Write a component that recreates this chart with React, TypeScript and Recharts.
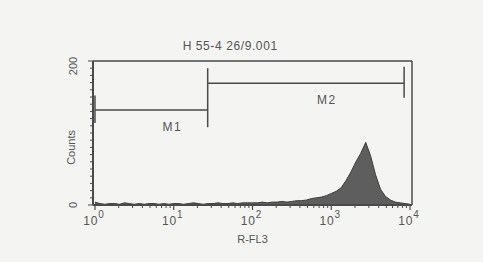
import { AreaChart, Area, XAxis, YAxis, ReferenceLine } from "recharts";

// histogram counts, 16 channels per decade (10^0 .. 10^4)
const counts = [
  4, 2, 1, 2, 2, 1, 3, 2, 1, 2, 1, 2, 2, 1, 2, 1,
  2, 2, 1, 2, 3, 2, 1, 2, 2, 3, 2, 2, 3, 2, 3, 3,
  3, 3, 4, 3, 4, 4, 5, 4, 5, 6, 6, 7,
  9, 10, 11, 13, 16, 19, 24, 34, 46, 60, 72, 87, 68, 42, 22, 12, 7, 4, 3, 2, 1,
];

const decades = [0, 1, 2, 3, 4];
const chPerDecade = 16;

// marker gates (channel range, level in counts)
const gateNames = ["M1", "M2"];
const gateFrom = [0, 22.9];
const gateTo = [22.9, 62.8];
const gateLevel = [132, 169];
// vertical end bars: channel, low, high
const barCh = [0, 22.9, 62.8];
const barLow = [114, 108, 149];
const barHigh = [152, 190, 192];

const title = "H 55-4 26/9.001";

const data = counts.map((c, i) => ({ ch: i, count: c }));

const xDomain = [-0.4, 64.4];
const yDomain = [0, 200];

const majorTicks = decades.map((d) => d * chPerDecade);
const minorTicks: number[] = [];
decades.slice(0, 4).forEach((d) => {
  for (let k = 2; k <= 9; k++) minorTicks.push((d + Math.log10(k)) * chPerDecade);
});
const xTicks = [...majorTicks, ...minorTicks].sort((a, b) => a - b);
const yTicks = Array.from({ length: 21 }, (_, i) => i * 10);

const ink = "#4a4a4a";
const font = "'Liberation Sans', Arial, sans-serif";

const XTick = (props: any) => {
  const { x, y, payload } = props;
  const major = majorTicks.includes(payload.value);
  if (!major) return <line x1={x} x2={x} y1={y} y2={y + 3} stroke={ink} strokeWidth={1} />;
  return (
    <g>
      <line x1={x} x2={x} y1={y} y2={y + 5} stroke={ink} strokeWidth={1.2} />
      <text x={x - 1} y={y + 20} textAnchor="middle" fontSize={12} fill="#555" fontFamily={font} letterSpacing={0.8}>
        10
        <tspan dy={-7} fontSize={10}>{payload.value / chPerDecade}</tspan>
      </text>
    </g>
  );
};

const YTick = (props: any) => {
  const { x, y, payload } = props;
  const v = payload.value;
  const major = v === 0 || v === 200;
  return (
    <g>
      <line x1={x - (major ? 5 : 3)} x2={x} y1={y} y2={y} stroke={ink} strokeWidth={1} />
      {major && (
        <text
          transform={`translate(${x - 20},${y + (v === 0 ? 0 : 5)}) rotate(-90)`}
          textAnchor="middle"
          dominantBaseline="central"
          fontSize={11}
          fill="#555"
          fontFamily={font}
        >
          {v}
        </text>
      )}
    </g>
  );
};

export default function App() {
  return (
    <div style={{ position: "absolute", left: 0, top: 0, width: 483, height: 262, background: "#f4f4f2" }}>
      <AreaChart
        width={483}
        height={262}
        data={data}
        margin={{ top: 61, right: 71, bottom: 17, left: 63 }}
      >
        <XAxis
          dataKey="ch"
          type="number"
          domain={xDomain}
          ticks={xTicks}
          interval={0}
          tick={<XTick />}
          tickSize={0}
          tickMargin={0}
          tickLine={false}
          height={40}
          axisLine={{ stroke: ink, strokeWidth: 2 }}
          label={{ value: "R-FL3", position: "insideBottom", offset: 2, fontSize: 11, fill: "#555", fontFamily: font }}
        />
        <YAxis
          type="number"
          domain={yDomain}
          ticks={yTicks}
          interval={0}
          tick={<YTick />}
          tickSize={0}
          tickMargin={0}
          tickLine={false}
          width={30}
          axisLine={{ stroke: ink, strokeWidth: 2 }}
          label={{
            content: (p: any) => (
              <text
                transform={`translate(${p.viewBox.x + 8},${p.viewBox.y + p.viewBox.height * 0.6}) rotate(-90)`}
                textAnchor="middle"
                dominantBaseline="central"
                fontSize={11}
                fill="#555"
                fontFamily={font}
              >
                Counts
              </text>
            ),
          }}
        />
        <Area
          type="linear"
          dataKey="count"
          stroke="#3e3e3e"
          strokeWidth={1}
          fill="#5e5e5e"
          fillOpacity={1}
          isAnimationActive={false}
        />
        {/* frame: top and right edges */}
        <ReferenceLine
          y={yDomain[1]}
          stroke={ink}
          strokeWidth={1.5}
          ifOverflow="visible"
          label={{
            content: (p: any) => (
              <text
                x={p.viewBox.x + p.viewBox.width * 0.43}
                y={p.viewBox.y - 11}
                textAnchor="middle"
                fontSize={12}
                letterSpacing={0.6}
                fill="#555"
                fontFamily={font}
              >
                {title}
              </text>
            ),
          }}
        />
        <ReferenceLine x={xDomain[1]} stroke={ink} strokeWidth={1.5} ifOverflow="visible" />
        {gateNames.map((name, i) => (
          <ReferenceLine
            key={name}
            segment={[
              { x: gateFrom[i], y: gateLevel[i] },
              { x: gateTo[i], y: gateLevel[i] },
            ]}
            stroke={ink}
            strokeWidth={1.5}
            ifOverflow="visible"
            label={{
              content: (p: any) => (
                <text
                  x={p.viewBox.x + p.viewBox.width / 2 + 21}
                  y={p.viewBox.y + 17}
                  textAnchor="middle"
                  dominantBaseline="central"
                  fontSize={12}
                  letterSpacing={1.5}
                  fill="#555"
                  fontFamily={font}
                >
                  {name}
                </text>
              ),
            }}
          />
        ))}
        {barCh.map((c, i) => (
          <ReferenceLine
            key={"bar" + i}
            segment={[
              { x: c, y: barLow[i] },
              { x: c, y: barHigh[i] },
            ]}
            stroke={ink}
            strokeWidth={1.5}
            ifOverflow="visible"
          />
        ))}
      </AreaChart>
    </div>
  );
}
